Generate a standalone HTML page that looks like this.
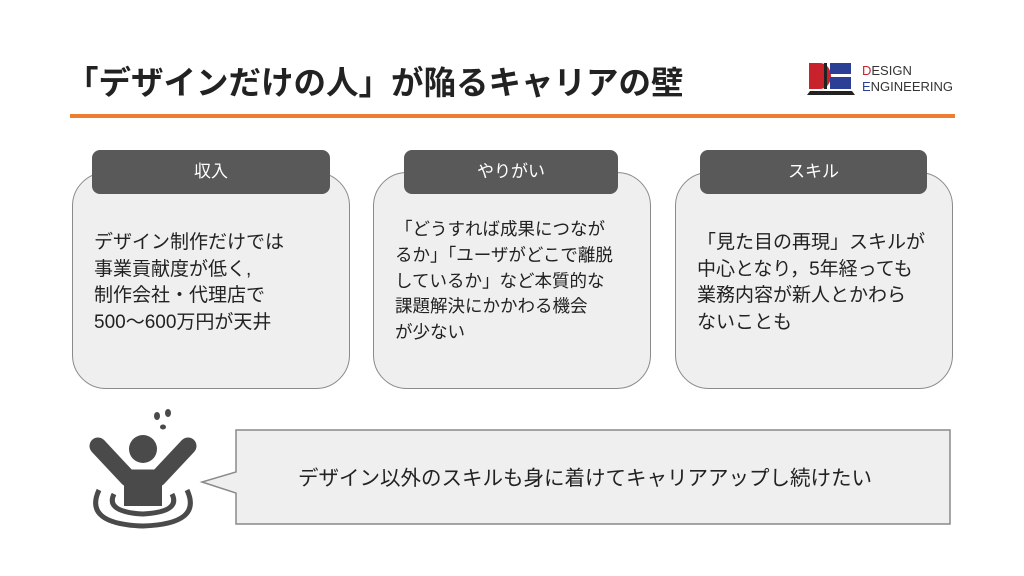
<!DOCTYPE html>
<html><head><meta charset="utf-8"><style>
body{margin:0;width:1024px;height:576px;background:#fff;position:relative;overflow:hidden;font-family:"Liberation Sans","Noto Sans CJK JP",sans-serif;color:#222}
.a{position:absolute}
.title{left:66px;top:57px;font-size:32.5px;font-weight:bold;white-space:nowrap}
.line{left:70px;top:114px;width:885px;height:4px;background:#ed7d31}
.card{background:#efefef;border:1.5px solid #8a8a8a;border-radius:34px;box-sizing:border-box}
.tab{background:#595959;color:#fff;border-radius:8px;font-size:17px;text-align:center;line-height:44px;height:44px}
.t{font-size:19px;line-height:26.5px;white-space:nowrap}
</style></head><body>
<div class="a title">「デザインだけの人」が陥るキャリアの壁</div>
<div class="a line"></div>
<svg class="a" style="left:806px;top:60px" width="52" height="38" viewBox="0 0 52 38">
<path d="M3 3h11a11 13 0 0 1 0 26H3z" fill="#c8232c"/>
<rect x="18" y="3" width="3" height="26" fill="#222"/>
<rect x="24" y="3" width="21" height="11" fill="#2b3f94"/>
<rect x="24" y="17" width="21" height="12" fill="#2b3f94"/>
<path d="M1 35l3-4h42l3 4z" fill="#222"/>
</svg>
<div class="a" style="left:862px;top:63px;font-size:13px;line-height:16px;color:#333"><span style="color:#c8232c">D</span>ESIGN<br><span style="color:#2b3f94">E</span>NGINEERING</div>

<div class="a card" style="left:72px;top:172px;width:278px;height:217px"></div>
<div class="a card" style="left:373px;top:172px;width:278px;height:217px"></div>
<div class="a card" style="left:675px;top:172px;width:278px;height:217px"></div>
<div class="a tab" style="left:92px;top:150px;width:238px">収入</div>
<div class="a tab" style="left:404px;top:150px;width:214px">やりがい</div>
<div class="a tab" style="left:700px;top:150px;width:227px">スキル</div>
<div class="a t" style="left:94px;top:230px">デザイン制作だけでは<br>事業貢献度が低く,<br>制作会社・代理店で<br>500～600万円が天井</div>
<div class="a t" style="left:395px;top:217px;font-size:17.5px;line-height:25.8px">「どうすれば成果につなが<br>るか」「ユーザがどこで離脱<br>しているか」など本質的な<br>課題解決にかかわる機会<br>が少ない</div>
<div class="a t" style="left:697px;top:230px">「見た目の再現」スキルが<br>中心となり，5年経っても<br>業務内容が新人とかわら<br>ないことも</div>

<svg class="a" style="left:0;top:400px" width="1024" height="140">
<path d="M236 30H950V124H236V93L202 82L236 72Z" fill="#efefef" stroke="#8a8a8a" stroke-width="1.5"/>
<g fill="#4a4a4a">
<circle cx="143" cy="49" r="14"/>
<path d="M98 46L128 78H158L188 46" fill="none" stroke="#4a4a4a" stroke-width="17" stroke-linecap="round" stroke-linejoin="round"/>
<path d="M124 74h38v32h-38z"/>
<ellipse cx="157" cy="16" rx="3" ry="4"/><ellipse cx="168" cy="13" rx="3" ry="4"/><ellipse cx="163" cy="27" rx="3" ry="2.5"/>
</g>
<path d="M114 94q-9 18 29 20q38-2 29-20" fill="none" stroke="#4a4a4a" stroke-width="5"/>
<path d="M99 90q-16 34 44 36q60-2 44-36" fill="none" stroke="#4a4a4a" stroke-width="5"/>
<text x="585" y="85" font-size="20.5" text-anchor="middle" fill="#222" font-family="Liberation Sans,Noto Sans CJK JP,sans-serif">デザイン以外のスキルも身に着けてキャリアアップし続けたい</text>
</svg>
</body></html>
